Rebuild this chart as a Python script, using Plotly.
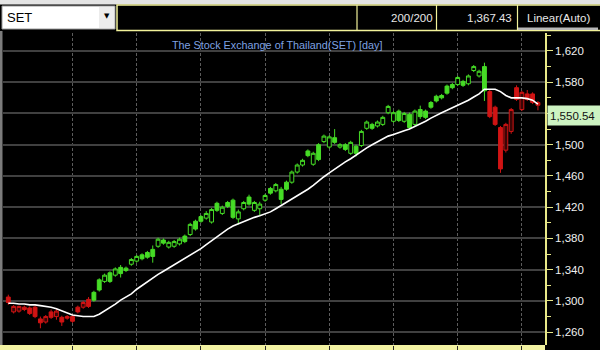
import plotly.graph_objects as go

# ---------------- data ----------------
symbol = "SET"
chart_title = "The Stock Exchange of Thailand(SET) [day]"
header_count = "200/200"
header_value = "1,367.43"
header_scale = "Linear(Auto)"
last_price = 1550.54

bar_index = list(range(100))

opens = [1305, 1286, 1287, 1292, 1291, 1292, 1277, 1273, 1286, 1280,
         1279, 1280, 1280, 1292, 1292, 1302, 1311, 1327, 1325, 1336,
         1333, 1343, 1342, 1347, 1351, 1359, 1362, 1366, 1370, 1378,
         1369, 1370, 1373, 1383, 1385, 1402, 1408, 1406, 1401, 1425,
         1412, 1426, 1429, 1405, 1418, 1433, 1416, 1418, 1429, 1444,
         1441, 1443, 1452, 1452, 1465, 1474, 1492, 1475, 1500, 1504,
         1497, 1509, 1497, 1500, 1489, 1498, 1499, 1521, 1526, 1524,
         1526, 1541, 1530, 1543, 1530, 1539, 1526, 1545, 1543, 1554,
         1562, 1563, 1575, 1577, 1577, 1581, 1578, 1595, 1588, 1600,
         1568, 1548, 1522, 1493, 1517, 1573, 1545, 1565, 1565, 1554]
highs = [1308, 1295, 1294, 1294, 1293, 1294, 1280, 1282, 1289, 1291,
         1281, 1282, 1283, 1294, 1300, 1305, 1313, 1329, 1335, 1338,
         1343, 1346, 1344, 1355, 1359, 1361, 1364, 1371, 1381, 1380,
         1377, 1378, 1381, 1385, 1400, 1404, 1410, 1415, 1419, 1427,
         1422, 1428, 1431, 1417, 1428, 1436, 1428, 1427, 1437, 1446,
         1451, 1446, 1454, 1467, 1476, 1482, 1494, 1491, 1502, 1513,
         1512, 1520, 1502, 1502, 1505, 1500, 1519, 1531, 1528, 1531,
         1537, 1551, 1543, 1545, 1542, 1541, 1545, 1550, 1545, 1556,
         1564, 1565, 1577, 1579, 1588, 1583, 1590, 1602, 1596, 1605,
         1570, 1550, 1524, 1528, 1547, 1576, 1569, 1570, 1567, 1556]
lows = [1295, 1284, 1285, 1287, 1282, 1278, 1265, 1271, 1277, 1276,
        1268, 1276, 1272, 1284, 1290, 1291, 1299, 1312, 1323, 1323,
        1331, 1330, 1337, 1345, 1349, 1352, 1354, 1349, 1368, 1372,
        1367, 1368, 1371, 1374, 1383, 1390, 1400, 1404, 1399, 1414,
        1410, 1419, 1405, 1398, 1416, 1422, 1414, 1410, 1427, 1436,
        1439, 1424, 1441, 1450, 1463, 1472, 1484, 1473, 1479, 1502,
        1495, 1501, 1495, 1492, 1487, 1485, 1497, 1519, 1519, 1522,
        1524, 1539, 1528, 1529, 1528, 1520, 1524, 1533, 1533, 1546,
        1554, 1558, 1564, 1571, 1575, 1574, 1576, 1593, 1586, 1556,
        1534, 1524, 1464, 1490, 1514, 1556, 1543, 1556, 1552, 1544]
closes = [1298, 1293, 1293, 1289, 1284, 1280, 1272, 1280, 1279, 1287,
          1273, 1278, 1274, 1286, 1298, 1293, 1301, 1314, 1333, 1325,
          1341, 1335, 1339, 1353, 1357, 1354, 1356, 1357, 1379, 1374,
          1375, 1376, 1379, 1376, 1398, 1392, 1402, 1412, 1417, 1416,
          1420, 1421, 1407, 1414, 1426, 1424, 1426, 1424, 1435, 1438,
          1449, 1430, 1443, 1465, 1474, 1480, 1486, 1489, 1481, 1511,
          1510, 1503, 1500, 1494, 1503, 1489, 1517, 1529, 1521, 1529,
          1535, 1549, 1541, 1531, 1540, 1522, 1543, 1536, 1535, 1548,
          1556, 1560, 1566, 1573, 1586, 1576, 1588, 1600, 1594, 1569,
          1536, 1526, 1469, 1526, 1545, 1558, 1567, 1558, 1554, 1550.54]
moving_avg = [1297, 1297, 1296, 1296, 1295, 1295, 1294, 1293, 1292, 1290,
              1287, 1284, 1282, 1281, 1280, 1280, 1280, 1283, 1287, 1292,
              1296, 1301, 1305, 1309, 1315, 1320, 1325, 1329, 1334, 1338,
              1342, 1346, 1350, 1354, 1358, 1362, 1367, 1372, 1377, 1383,
              1388, 1392, 1396, 1399, 1402, 1405, 1407, 1409, 1411, 1414,
              1418, 1422, 1426, 1430, 1434, 1438, 1443, 1448, 1454, 1459,
              1464, 1469, 1474, 1478, 1482, 1487, 1491, 1496, 1500, 1504,
              1508, 1511, 1513, 1515, 1518, 1520, 1523, 1526, 1530, 1534,
              1538, 1541, 1544, 1547, 1550, 1553, 1557, 1561, 1565, 1571,
              1571, 1571, 1568, 1563, 1560, 1560, 1560, 1559, 1557, 1552]
uptrend_first, uptrend_last = 16, 89
vgrid_bars = [12, 24, 36, 48, 60, 72, 84, 96]
ytick_vals = [1260, 1300, 1340, 1380, 1420, 1460, 1500, 1540, 1580, 1620]

# ---------------- styling ----------------
GREEN = "#46dc26"
RED = "#d01414"
YELLOW = "#e8e888"
FONT = "Liberation Sans"
W, H = 600, 350


def px_x(p):
    return p / W


def px_y(p):
    return 1 - p / H


def subset(seq, ids):
    return [seq[i] for i in ids]


# tick labels that sit under the last-price box are covered in the original
ytick_text = ["" if last_price - 26 < v <= last_price + 2 else f"{v:,}" for v in ytick_vals]

green_ids = [i for i in bar_index if uptrend_first <= i <= uptrend_last]
red_ids = [i for i in bar_index if not (uptrend_first <= i <= uptrend_last)]

fig = go.Figure()
for ids, col, hollow_fill in ((red_ids, RED, "#3a0606"), (green_ids, GREEN, "#000000")):
    fig.add_trace(go.Candlestick(
        x=subset(bar_index, ids), open=subset(opens, ids), high=subset(highs, ids),
        low=subset(lows, ids), close=subset(closes, ids),
        increasing=dict(line=dict(color=col, width=1), fillcolor=hollow_fill),
        decreasing=dict(line=dict(color=col, width=1), fillcolor=col),
        whiskerwidth=0, hoverinfo="skip", showlegend=False))

fig.add_trace(go.Scatter(x=bar_index, y=moving_avg, mode="lines",
                         line=dict(color="#ffffff", width=1.6),
                         hoverinfo="skip", showlegend=False))

shapes = [
    dict(type="rect", xref="paper", yref="paper", x0=0, x1=1, y0=px_y(4.5), y1=1,
         fillcolor="#e4e4e4", line=dict(width=0), layer="below"),
    dict(type="rect", xref="paper", yref="paper", x0=px_x(2), x1=px_x(115), y0=px_y(29), y1=px_y(6),
         fillcolor="#ffffff", line=dict(color="#9a9a9a", width=1), layer="below"),
    dict(type="rect", xref="paper", yref="paper", x0=px_x(99), x1=px_x(114), y0=px_y(28), y1=px_y(7),
         fillcolor="#ececec", line=dict(width=0), layer="below"),
    dict(type="rect", xref="paper", yref="paper", x0=px_x(117), x1=px_x(601), y0=px_y(30.5), y1=px_y(5),
         fillcolor="#000000", line=dict(color="#f2f29a", width=1.5), layer="below"),
    dict(type="rect", xref="paper", yref="paper", x0=px_x(518), x1=px_x(598), y0=px_y(30), y1=px_y(27.5),
         fillcolor="#b8b8b8", line=dict(width=0), layer="below"),
    dict(type="rect", xref="paper", yref="paper", x0=0, x1=px_x(2.5), y0=px_y(345), y1=px_y(31),
         fillcolor="#7c7c7c", line=dict(width=0), layer="below"),
    dict(type="rect", xref="paper", yref="paper", x0=0, x1=px_x(545), y0=0, y1=px_y(345),
         fillcolor="#f2f2a2", line=dict(width=0), layer="below"),
]
for sx in (357, 436.5, 517.5):
    shapes.append(dict(type="line", xref="paper", yref="paper", x0=px_x(sx), x1=px_x(sx),
                       y0=px_y(30.5), y1=px_y(5), line=dict(color="#f2f29a", width=1.2), layer="below"))

ann = [
    dict(text=symbol, x=px_x(5), y=px_y(18), xanchor="left", yanchor="middle",
         font=dict(family=FONT, size=13, color="#000000")),
    dict(text="▼", x=px_x(107), y=px_y(16), xanchor="center", yanchor="middle",
         font=dict(family="DejaVu Sans", size=7, color="#000000")),
    dict(text=header_count, x=px_x(435), y=px_y(17.5), xanchor="right", yanchor="middle",
         font=dict(family=FONT, size=11.5, color="#e8e8e8")),
    dict(text=header_value, x=px_x(514), y=px_y(17.5), xanchor="right", yanchor="middle",
         font=dict(family=FONT, size=11.5, color="#e8e8e8")),
    dict(text=header_scale, x=px_x(558), y=px_y(17.5), xanchor="center", yanchor="middle",
         font=dict(family=FONT, size=11.5, color="#e8e8e8")),
    dict(text=chart_title, x=px_x(170), y=px_y(45), xanchor="left", yanchor="middle",
         font=dict(family=FONT, size=10.8, color="#7fa2e2")),
    dict(text=f"{last_price:,.2f}", xref="paper", yref="y", x=px_x(547), y=last_price,
         xanchor="left", yanchor="top", align="left", width=50, height=15, borderpad=2,
         bgcolor="#cdf3c2", font=dict(family=FONT, size=11.5, color="#111111")),
]
for a in ann:
    a.setdefault("xref", "paper")
    a.setdefault("yref", "paper")
    a["showarrow"] = False

fig.update_layout(
    width=W, height=H, margin=dict(l=0, r=0, t=0, b=0, pad=0),
    paper_bgcolor="#000000", plot_bgcolor="#000000",
    showlegend=False, boxgap=0, boxgroupgap=0.28,
    shapes=shapes, annotations=ann,
    xaxis=dict(domain=[px_x(3), px_x(545)], range=[-0.99, 100.32],
               rangeslider=dict(visible=False), tickmode="array", tickvals=vgrid_bars,
               showticklabels=False, showgrid=True, gridcolor="#5c5c5c", gridwidth=1,
               griddash="3px,2px", ticks="outside", ticklen=6, tickcolor="#2a2a2a",
               zeroline=False, showline=False, fixedrange=True),
    yaxis=dict(domain=[px_y(345), px_y(33)], range=[1243.6, 1643.0], side="right",
               tickmode="array", tickvals=ytick_vals, ticktext=ytick_text,
               showgrid=True, gridcolor="#404040", gridwidth=2,
               showline=True, linecolor=YELLOW, linewidth=1.5,
               ticks="outside", ticklen=6, tickwidth=1.2, tickcolor=YELLOW,
               tickfont=dict(family=FONT, size=11.5, color="#f0f0f0"),
               minor=dict(dtick=20, tick0=1260, ticks="outside", ticklen=4,
                          tickcolor=YELLOW, showgrid=False),
               zeroline=False, fixedrange=True),
)

fig.write_html("out.html")
